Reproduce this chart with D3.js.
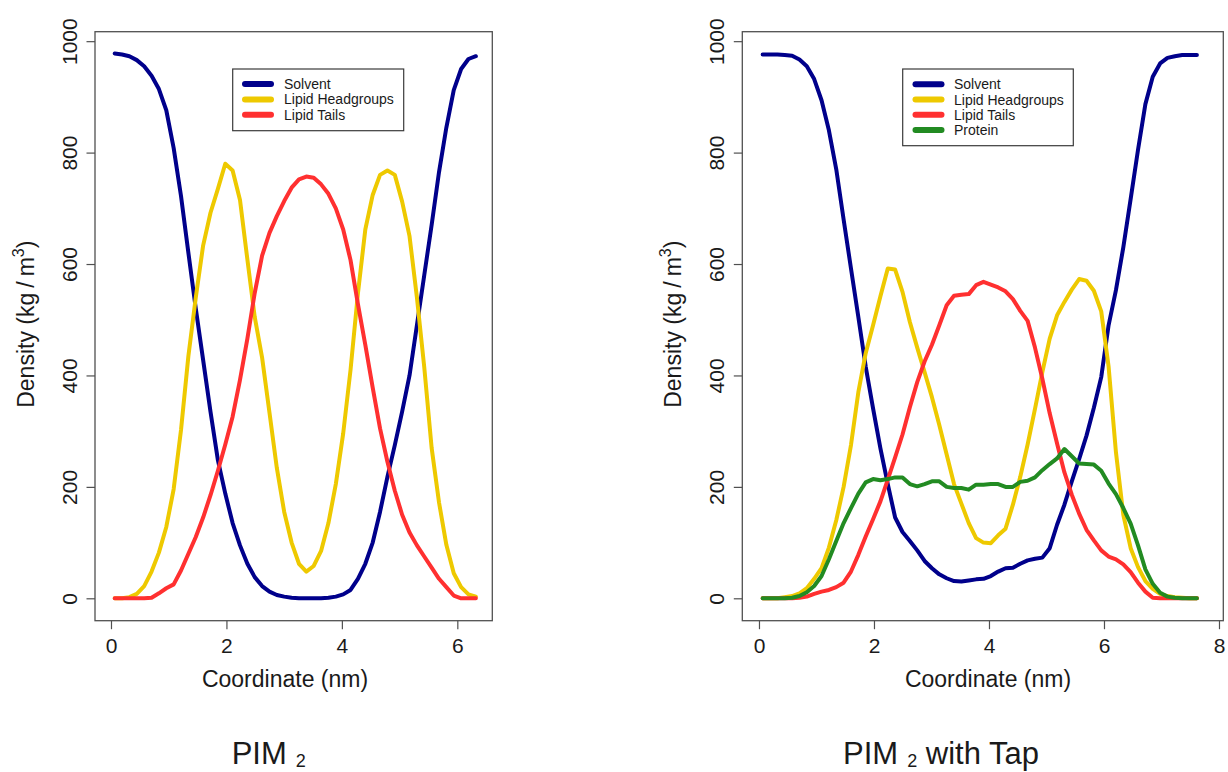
<!DOCTYPE html>
<html>
<head>
<meta charset="utf-8">
<script src="https://cdn.jsdelivr.net/npm/d3@7"></script>
<style>
  html, body { margin: 0; padding: 0; background: #ffffff; }
  svg { display: block; font-family: "Liberation Sans", Arial, Helvetica, sans-serif; }
</style>
</head>
<body>
<script>
// ---- Density profiles across the membrane (kg/m^3) ----

// PIM2 bilayer: bin centres along the membrane normal (nm)
const coordPIM2 = [0.064,0.192,0.319,0.447,0.575,0.703,0.830,0.958,1.086,1.213,
  1.341,1.469,1.596,1.724,1.852,1.980,2.107,2.235,2.363,2.490,
  2.618,2.746,2.873,3.001,3.129,3.257,3.384,3.512,3.640,3.767,
  3.895,4.023,4.150,4.278,4.406,4.534,4.661,4.789,4.917,5.044,
  5.172,5.300,5.427,5.555,5.683,5.810,5.938,6.066,6.193,6.321];

const solventPIM2 = [978,976,973,966,955,938,914,876,808,722,
  620,520,428,335,248,188,135,95,62,38,
  22,12,6,3,1,0,0,0,0,1,
  3,7,15,35,62,100,155,218,275,335,
  400,490,580,670,765,845,912,950,968,973];

const headPIM2 = [0,0,2,8,22,48,82,128,196,302,
  435,540,633,692,735,780,768,715,608,505,
  432,333,234,155,100,62,48,58,85,135,
  205,296,410,547,662,724,760,768,760,712,
  650,540,415,270,172,96,45,20,7,3];

const tailPIM2 = [0,0,0,0,0,1,9,18,25,50,
  80,110,145,185,229,276,326,392,466,548,
  615,656,686,713,737,752,757,755,743,726,
  700,662,607,528,455,378,305,245,193,150,
  118,95,75,55,35,20,5,0,0,0];

// PIM2 bilayer with Tap: bin centres (nm)
const coordTap = [0.064,0.192,0.320,0.448,0.576,0.704,0.832,0.960,1.088,1.216,
  1.344,1.472,1.600,1.728,1.856,1.984,2.112,2.240,2.368,2.496,
  2.624,2.752,2.880,3.008,3.136,3.264,3.392,3.520,3.648,3.776,
  3.904,4.032,4.160,4.288,4.416,4.544,4.672,4.800,4.928,5.056,
  5.184,5.312,5.440,5.568,5.696,5.824,5.952,6.080,6.208,6.336,
  6.464,6.592,6.720,6.848,6.976,7.104,7.232,7.360,7.488,7.616];

const solventTap = [976,976,976,975,974,967,955,932,894,840,
  770,680,592,505,416,341,269,205,145,119,
  103,86,67,54,43,36,31,30,32,34,
  35,40,48,54,55,62,68,71,73,90,
  132,168,210,250,292,342,397,490,553,630,
  717,805,887,936,960,970,973,975,975,975];

const headTap = [0,0,0,2,4,9,18,35,54,91,
  140,200,275,370,440,490,542,592,590,550,
  496,450,406,361,311,258,205,170,135,108,
  100,99,113,125,168,218,276,340,406,466,
  508,532,554,573,570,552,515,416,262,150,
  90,56,31,17,8,4,2,1,0,0];

const tailTap = [0,0,0,0,0,1,3,8,12,15,
  20,28,48,78,111,142,174,213,253,294,
  343,388,425,455,490,526,543,545,546,562,
  568,563,558,551,537,516,498,450,394,332,
  278,226,186,152,123,104,86,75,70,61,
  47,28,12,1,0,0,0,0,0,0];

const proteinTap = [0,0,0,0,1,4,11,22,40,70,
  103,135,162,188,208,214,212,214,217,217,
  205,201,205,210,210,200,198,198,195,204,
  204,205,205,200,200,209,211,217,230,241,
  251,268,255,242,241,240,229,206,187,162,
  134,95,52,26,10,3,1,0,0,0];

// Axis ticks
const xTicksPIM2 = [0, 2, 4, 6];
const xTicksTap = [0, 2, 4, 6, 8];
const yTicks = [0, 200, 400, 600, 800, 1000];

// Series names and colours
const seriesNames = ["Solvent", "Lipid Headgroups", "Lipid Tails", "Protein"];
const seriesColors = ["#00008b", "#eec900", "#ff3030", "#228b22"];

// ---- Layout ----
const W = 1228, H = 772;
const svg = d3.select("body").append("svg").attr("width", W).attr("height", H);
svg.append("rect").attr("width", W).attr("height", H).attr("fill", "#ffffff");

const textColor = "#1a1a1a";
const frameColor = "#505050";

const panels = [
  {
    box: {left: 95, right: 492.3, top: 31.7, bottom: 620.7},
    xDomain: [-0.277, 6.606],
    xTicks: xTicksPIM2,
    coords: coordPIM2,
    series: [solventPIM2, headPIM2, tailPIM2],
    legend: {left: 232.7, right: 403.7, top: 69, bottom: 130.7, firstY: 84, step: 15.4, lineX0: 245, lineX1: 271, textX: 284},
    xTitleX: 285,
    title: {x: 231.7, main: "PIM", sub: "2", rest: ""}
  },
  {
    box: {left: 742.3, right: 1223.3, top: 31.7, bottom: 620.7},
    xDomain: [-0.29, 8.075],
    xTicks: xTicksTap,
    coords: coordTap,
    series: [solventTap, headTap, tailTap, proteinTap],
    legend: {left: 902.7, right: 1073.3, top: 69, bottom: 145.7, firstY: 84.2, step: 15.3, lineX0: 915.5, lineX1: 941.5, textX: 954},
    xTitleX: 988,
    title: {x: 843, main: "PIM", sub: "2", rest: " with Tap"}
  }
];

panels.forEach(p => {
  const b = p.box;
  const x = d3.scaleLinear().domain(p.xDomain).range([b.left, b.right]);
  const y = d3.scaleLinear().domain([-40.2, 1017]).range([b.bottom, b.top]);

  // density curves
  const line = d3.line()
    .x((d, i) => x(p.coords[i]))
    .y(d => y(d));
  const clipId = "clip" + Math.round(b.left);
  svg.append("clipPath").attr("id", clipId)
    .append("rect").attr("x", b.left).attr("y", b.top)
    .attr("width", b.right - b.left).attr("height", b.bottom - b.top);
  const g = svg.append("g").attr("clip-path", `url(#${clipId})`);
  p.series.forEach((vals, k) => {
    g.append("path")
      .datum(vals)
      .attr("d", line)
      .attr("fill", "none")
      .attr("stroke", seriesColors[k])
      .attr("stroke-width", 4)
      .attr("stroke-linejoin", "round")
      .attr("stroke-linecap", "round");
  });

  // frame
  svg.append("rect")
    .attr("x", b.left).attr("y", b.top)
    .attr("width", b.right - b.left).attr("height", b.bottom - b.top)
    .attr("fill", "none").attr("stroke", frameColor).attr("stroke-width", 1.3);

  // x axis
  const gx = svg.append("g")
    .attr("transform", `translate(0,${b.bottom})`)
    .call(d3.axisBottom(x).tickValues(p.xTicks).tickSize(8.5).tickSizeOuter(0).tickFormat(d3.format("d")));
  gx.select(".domain").remove();
  gx.selectAll(".tick line").attr("stroke", frameColor).attr("stroke-width", 1.2);
  gx.selectAll(".tick text")
    .attr("y", 32).attr("dy", 0)
    .attr("fill", textColor)
    .style("font-size", "21px")
    .style("font-family", "'Liberation Sans', Arial, sans-serif");

  // y axis with labels parallel to the axis
  const gy = svg.append("g")
    .attr("transform", `translate(${b.left},0)`)
    .call(d3.axisLeft(y).tickValues(yTicks).tickSize(8.5).tickSizeOuter(0).tickFormat(d3.format("d")));
  gy.select(".domain").remove();
  gy.selectAll(".tick line").attr("stroke", frameColor).attr("stroke-width", 1.2);
  gy.selectAll(".tick text")
    .attr("x", 0).attr("y", -18).attr("dy", 0)
    .attr("transform", "rotate(-90)")
    .attr("text-anchor", "middle")
    .attr("fill", textColor)
    .style("font-size", "21px")
    .style("font-family", "'Liberation Sans', Arial, sans-serif");

  // axis titles
  svg.append("text")
    .attr("x", p.xTitleX).attr("y", 687)
    .attr("text-anchor", "middle")
    .attr("fill", textColor)
    .style("font-size", "23px")
    .text("Coordinate (nm)");

  const yt = svg.append("text")
    .attr("transform", `translate(${b.left - 61},${(b.top + b.bottom) / 2 - 2}) rotate(-90)`)
    .attr("text-anchor", "middle")
    .attr("fill", textColor)
    .style("font-size", "23px");
  yt.append("tspan").text("Density (kg");
  yt.append("tspan").attr("dx", 5).text("/");
  yt.append("tspan").attr("dx", 5).text("m");
  yt.append("tspan").attr("dy", -10).style("font-size", "16px").text("3");
  yt.append("tspan").attr("dy", 10).text(")");

  // legend
  const L = p.legend;
  svg.append("rect")
    .attr("x", L.left).attr("y", L.top)
    .attr("width", L.right - L.left).attr("height", L.bottom - L.top)
    .attr("fill", "#ffffff").attr("stroke", "#3a3a3a").attr("stroke-width", 1.2);
  p.series.forEach((vals, k) => {
    const ly = L.firstY + k * L.step;
    svg.append("line")
      .attr("x1", L.lineX0).attr("x2", L.lineX1)
      .attr("y1", ly).attr("y2", ly)
      .attr("stroke", seriesColors[k])
      .attr("stroke-width", 6)
      .attr("stroke-linecap", "round");
    svg.append("text")
      .attr("x", L.textX).attr("y", ly + 5)
      .attr("fill", textColor)
      .style("font-size", "14px")
      .text(seriesNames[k]);
  });

  // panel caption below the plot
  const t = svg.append("text")
    .attr("x", p.title.x).attr("y", 764)
    .attr("fill", textColor)
    .style("font-size", "31px");
  t.append("tspan").text(p.title.main);
  t.append("tspan").attr("dx", 9).attr("dy", 3).style("font-size", "18px").text(p.title.sub);
  if (p.title.rest) t.append("tspan").attr("dy", -3).text(p.title.rest);
});
</script>
</body>
</html>
